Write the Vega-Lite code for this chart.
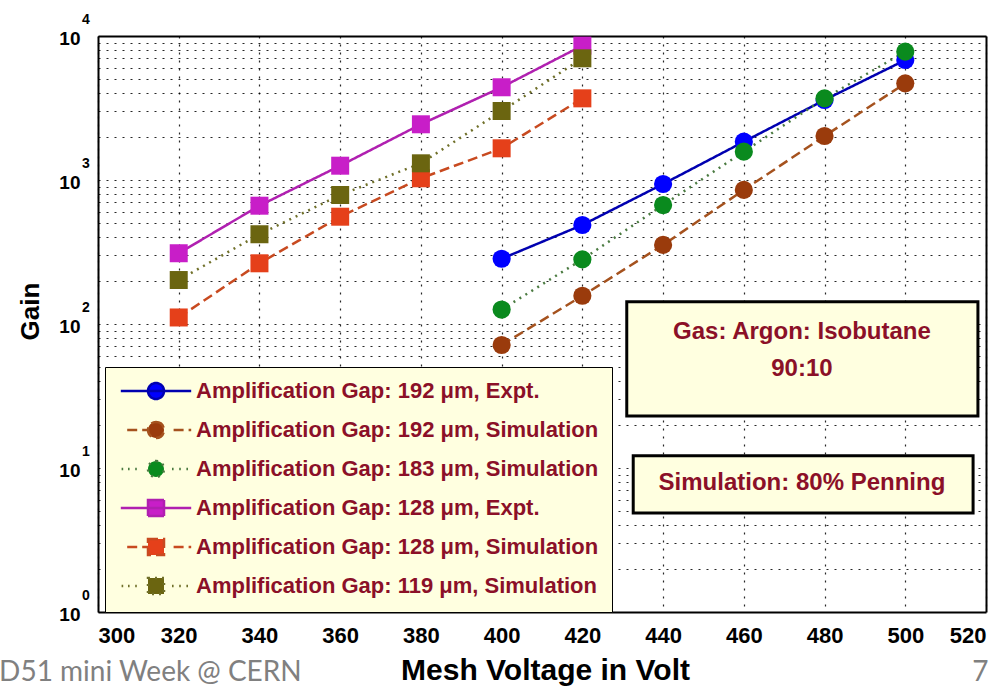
{
  "$schema": "https://vega.github.io/schema/vega-lite/v6.json",
  "width": 888,
  "height": 576,
  "autosize": {"type": "none"},
  "padding": {"left": 98, "top": 36, "right": 20, "bottom": 75},
  "background": "white",
  "config": {
    "view": {"stroke": null},
    "font": "Liberation Sans",
    "axis": {
      "labelFont": "Liberation Sans",
      "labelFontWeight": "bold",
      "labelColor": "black",
      "titleFont": "Liberation Sans",
      "titleFontWeight": "bold",
      "titleColor": "black",
      "domainColor": "black",
      "domainWidth": 2,
      "tickColor": "black",
      "tickWidth": 1.5,
      "tickSize": 0,
      "gridColor": "black",
      "gridDash": [2, 6],
      "gridWidth": 1.2,
      "gridOpacity": 0.85,
      "labelOverlap": false
    },
    "legend": {
      "padding": 13,
      "fillColor": "#FFFFE0",
      "strokeColor": "black",
      "labelFont": "Liberation Sans",
      "labelFontWeight": "bold",
      "labelFontSize": 22,
      "labelColor": "#8B1028",
      "labelLimit": 600,
      "symbolSize": 256,
      "symbolStrokeWidth": 2.5,
      "symbolOffset": 27,
      "labelOffset": 29,
      "rowPadding": 13
    }
  },
  "data": {
    "values": [
      {"series": "Amplification Gap: 192 μm, Expt.", "volt": 400, "gain": 284},
      {"series": "Amplification Gap: 192 μm, Expt.", "volt": 420, "gain": 487},
      {"series": "Amplification Gap: 192 μm, Expt.", "volt": 440, "gain": 938},
      {"series": "Amplification Gap: 192 μm, Expt.", "volt": 460, "gain": 1845},
      {"series": "Amplification Gap: 192 μm, Expt.", "volt": 480, "gain": 3594},
      {"series": "Amplification Gap: 192 μm, Expt.", "volt": 500, "gain": 6810},
      {"series": "Amplification Gap: 192 μm, Simulation", "volt": 400, "gain": 71.5},
      {"series": "Amplification Gap: 192 μm, Simulation", "volt": 420, "gain": 157},
      {"series": "Amplification Gap: 192 μm, Simulation", "volt": 440, "gain": 354},
      {"series": "Amplification Gap: 192 μm, Simulation", "volt": 460, "gain": 853},
      {"series": "Amplification Gap: 192 μm, Simulation", "volt": 480, "gain": 2020},
      {"series": "Amplification Gap: 192 μm, Simulation", "volt": 500, "gain": 4690},
      {"series": "Amplification Gap: 183 μm, Simulation", "volt": 400, "gain": 126},
      {"series": "Amplification Gap: 183 μm, Simulation", "volt": 420, "gain": 281},
      {"series": "Amplification Gap: 183 μm, Simulation", "volt": 440, "gain": 670},
      {"series": "Amplification Gap: 183 μm, Simulation", "volt": 460, "gain": 1573},
      {"series": "Amplification Gap: 183 μm, Simulation", "volt": 480, "gain": 3690},
      {"series": "Amplification Gap: 183 μm, Simulation", "volt": 500, "gain": 7780},
      {"series": "Amplification Gap: 128 μm, Expt.", "volt": 320, "gain": 310},
      {"series": "Amplification Gap: 128 μm, Expt.", "volt": 340, "gain": 663},
      {"series": "Amplification Gap: 128 μm, Expt.", "volt": 360, "gain": 1257},
      {"series": "Amplification Gap: 128 μm, Expt.", "volt": 380, "gain": 2437},
      {"series": "Amplification Gap: 128 μm, Expt.", "volt": 400, "gain": 4405},
      {"series": "Amplification Gap: 128 μm, Expt.", "volt": 420, "gain": 8570},
      {"series": "Amplification Gap: 128 μm, Simulation", "volt": 320, "gain": 111},
      {"series": "Amplification Gap: 128 μm, Simulation", "volt": 340, "gain": 264},
      {"series": "Amplification Gap: 128 μm, Simulation", "volt": 360, "gain": 556},
      {"series": "Amplification Gap: 128 μm, Simulation", "volt": 380, "gain": 1028},
      {"series": "Amplification Gap: 128 μm, Simulation", "volt": 400, "gain": 1660},
      {"series": "Amplification Gap: 128 μm, Simulation", "volt": 420, "gain": 3690},
      {"series": "Amplification Gap: 119 μm, Simulation", "volt": 320, "gain": 202},
      {"series": "Amplification Gap: 119 μm, Simulation", "volt": 340, "gain": 420},
      {"series": "Amplification Gap: 119 μm, Simulation", "volt": 360, "gain": 787},
      {"series": "Amplification Gap: 119 μm, Simulation", "volt": 380, "gain": 1306},
      {"series": "Amplification Gap: 119 μm, Simulation", "volt": 400, "gain": 3013},
      {"series": "Amplification Gap: 119 μm, Simulation", "volt": 420, "gain": 7000}
    ]
  },
  "layer": [
    {
      "transform": [{"filter": "datum.gain < 0"}],
      "mark": {"type": "point", "filled": true, "opacity": 1},
      "encoding": {
        "x": {"field": "volt", "type": "quantitative", "axis": null},
        "y": {"field": "gain", "type": "quantitative", "axis": null},
        "color": {
          "field": "series", "type": "nominal",
          "scale": {
            "domain": ["Amplification Gap: 192 μm, Expt.", "Amplification Gap: 192 μm, Simulation", "Amplification Gap: 183 μm, Simulation", "Amplification Gap: 128 μm, Expt.", "Amplification Gap: 128 μm, Simulation", "Amplification Gap: 119 μm, Simulation"],
            "range": ["#0000FF", "#9A3B0C", "#0A8A1E", "#C81EC8", "#E5401A", "#6B6510"]
          },
          "legend": {
            "title": null,
            "orient": "none", "legendX": 7, "legendY": 331,
            "encode": {
              "legend": {"strokeWidth": {"value": 3}},
              "symbols": {
                "stroke": {"signal": "scale('color', datum.value)"},
                "strokeWidth": {"value": 2.5}
              }
            }
          }
        },
        "shape": {
          "field": "series", "type": "nominal",
          "scale": {
            "domain": ["Amplification Gap: 192 μm, Expt.", "Amplification Gap: 192 μm, Simulation", "Amplification Gap: 183 μm, Simulation", "Amplification Gap: 128 μm, Expt.", "Amplification Gap: 128 μm, Simulation", "Amplification Gap: 119 μm, Simulation"],
            "range": [
              "M-4.4,0H4.4M0,-1A1,1 0 1,1 0,1A1,1 0 1,1 0,-1Z",
              "M-3.6,0H-1M2.2,0H4.4M0,-1A1,1 0 1,1 0,1A1,1 0 1,1 0,-1Z",
              "M-4.3,0h0.2M-3.5,0h0.2M-2.6,0h0.2M2,0h0.2M2.9,0h0.2M3.8,0h0.2M0,-1A1,1 0 1,1 0,1A1,1 0 1,1 0,-1Z",
              "M-4.4,0H4.4M-1,-1H1V1H-1Z",
              "M-3.6,0H-1M2.2,0H4.4M-1,-1H1V1H-1Z",
              "M-4.3,0h0.2M-3.5,0h0.2M-2.6,0h0.2M2,0h0.2M2.9,0h0.2M3.8,0h0.2M-1,-1H1V1H-1Z"
            ]
          },
          "legend": {"title": null, "orient": "none", "legendX": 7, "legendY": 331}
        }
      }
    },
    {
      "mark": {"type": "line", "strokeWidth": 2.5},
      "encoding": {
        "x": {
          "field": "volt", "type": "quantitative",
          "scale": {"domain": [300, 520], "nice": false, "zero": false},
          "axis": {
            "orient": "bottom",
            "values": [300, 320, 340, 360, 380, 400, 420, 440, 460, 480, 500, 520],
            "grid": true,
            "title": "Mesh Voltage in Volt",
            "titleFontSize": 30,
            "titleX": 447, "titleY": 58,
            "titleAlign": "center", "titleBaseline": "middle",
            "labelFontSize": 22, "labelPadding": 13, "labelBaseline": "top",
            "encode": {"ticks": {"update": {"y2": {"value": -8}}}}
          }
        },
        "y": {
          "field": "gain", "type": "quantitative",
          "scale": {"type": "log", "domain": [1, 10000], "nice": false},
          "axis": {
            "orient": "left",
            "values": [1, 2, 3, 4, 5, 6, 7, 8, 9, 10, 20, 30, 40, 50, 60, 70, 80, 90, 100, 200, 300, 400, 500, 600, 700, 800, 900, 1000, 2000, 3000, 4000, 5000, 6000, 7000, 8000, 9000, 10000],
            "grid": true,
            "labelExpr": "abs(log(datum.value)/LN10 - round(log(datum.value)/LN10)) < 0.001 ? '10' : ''",
            "labelFontSize": 19, "labelPadding": 18, "labelBaseline": "middle", "labelOffset": 2,
            "title": "Gain", "titleFontSize": 26, "titleAngle": -90,
            "titleX": -68, "titleY": 275, "titleAlign": "center", "titleBaseline": "middle",
            "encode": {"ticks": {"update": {"x2": {"signal": "abs(log(datum.value)/LN10 - round(log(datum.value)/LN10)) < 0.001 ? 11 : 6"}}}}
          }
        },
        "stroke": {
          "field": "series", "type": "nominal",
          "scale": {
            "domain": ["Amplification Gap: 192 μm, Expt.", "Amplification Gap: 192 μm, Simulation", "Amplification Gap: 183 μm, Simulation", "Amplification Gap: 128 μm, Expt.", "Amplification Gap: 128 μm, Simulation", "Amplification Gap: 119 μm, Simulation"],
            "range": ["#0000B0", "#A5521E", "#4A7A40", "#B020B0", "#C84A20", "#70702A"]
          },
          "legend": null
        },
        "strokeDash": {
          "field": "series", "type": "nominal",
          "scale": {
            "domain": ["Amplification Gap: 192 μm, Expt.", "Amplification Gap: 192 μm, Simulation", "Amplification Gap: 183 μm, Simulation", "Amplification Gap: 128 μm, Expt.", "Amplification Gap: 128 μm, Simulation", "Amplification Gap: 119 μm, Simulation"],
            "range": [[1, 0], [10, 5], [2, 5], [1, 0], [10, 5], [2, 5]]
          },
          "legend": null
        }
      }
    },
    {
      "transform": [{"filter": {"field": "series", "oneOf": ["Amplification Gap: 192 μm, Expt.", "Amplification Gap: 192 μm, Simulation", "Amplification Gap: 183 μm, Simulation"]}}],
      "mark": {"type": "point", "shape": "circle", "filled": true, "size": 330, "opacity": 1, "strokeWidth": 0},
      "encoding": {
        "x": {
          "field": "volt", "type": "quantitative",
          "axis": {
            "orient": "top",
            "values": [300, 320, 340, 360, 380, 400, 420, 440, 460, 480, 500, 520],
            "grid": false, "labels": false, "title": null,
            "encode": {"ticks": {"update": {"y2": {"value": 8}}}}
          }
        },
        "y": {
          "field": "gain", "type": "quantitative",
          "axis": {
            "orient": "right",
            "values": [1, 2, 3, 4, 5, 6, 7, 8, 9, 10, 20, 30, 40, 50, 60, 70, 80, 90, 100, 200, 300, 400, 500, 600, 700, 800, 900, 1000, 2000, 3000, 4000, 5000, 6000, 7000, 8000, 9000, 10000],
            "grid": false, "labels": false, "title": null,
            "encode": {"ticks": {"update": {"x2": {"signal": "abs(log(datum.value)/LN10 - round(log(datum.value)/LN10)) < 0.001 ? -11 : -6"}}}}
          }
        },
        "color": {"field": "series", "type": "nominal", "legend": null}
      }
    },
    {
      "transform": [{"filter": {"field": "series", "oneOf": ["Amplification Gap: 128 μm, Expt.", "Amplification Gap: 128 μm, Simulation", "Amplification Gap: 119 μm, Simulation"]}}],
      "mark": {"type": "point", "shape": "square", "filled": true, "size": 324, "opacity": 1, "strokeWidth": 0},
      "encoding": {
        "x": {"field": "volt", "type": "quantitative", "axis": null},
        "y": {"field": "gain", "type": "quantitative", "axis": null},
        "color": {"field": "series", "type": "nominal", "legend": null}
      }
    },
    {
      "data": {"values": [{"p": 1, "e": "0"}, {"p": 10, "e": "1"}, {"p": 100, "e": "2"}, {"p": 1000, "e": "3"}, {"p": 10000, "e": "4"}]},
      "mark": {"type": "text", "font": "Liberation Sans", "fontWeight": "bold", "fontSize": 14, "dx": -12, "dy": -16, "align": "center", "baseline": "middle", "color": "black"},
      "encoding": {
        "x": {"datum": 300, "type": "quantitative", "axis": null},
        "y": {"field": "p", "type": "quantitative", "axis": null},
        "text": {"field": "e"}
      }
    },
    {
      "data": {"values": [{}]},
      "mark": {"type": "rect", "fill": "#FFFFE0", "stroke": "black", "strokeWidth": 3},
      "encoding": {
        "x": {"datum": 431, "type": "quantitative", "axis": null},
        "x2": {"datum": 518},
        "y": {"datum": 142.9, "type": "quantitative", "axis": null},
        "y2": {"datum": 22.96}
      }
    },
    {
      "data": {"values": [{}]},
      "mark": {"type": "rect", "fill": "#FFFFE0", "stroke": "black", "strokeWidth": 3},
      "encoding": {
        "x": {"datum": 432.6, "type": "quantitative", "axis": null},
        "x2": {"datum": 516.8},
        "y": {"datum": 12.17, "type": "quantitative", "axis": null},
        "y2": {"datum": 4.87}
      }
    },
    {
      "data": {"values": [{}]},
      "mark": {"type": "text", "text": ["Gas: Argon: Isobutane", "90:10"], "font": "Liberation Sans", "fontWeight": "bold", "fontSize": 24, "lineHeight": 37, "align": "center", "baseline": "top", "color": "#8B1028"},
      "encoding": {
        "x": {"datum": 474.4, "type": "quantitative", "axis": null},
        "y": {"datum": 107.3, "type": "quantitative", "axis": null}
      }
    },
    {
      "data": {"values": [{}]},
      "mark": {"type": "text", "text": "Simulation: 80% Penning", "font": "Liberation Sans", "fontWeight": "bold", "fontSize": 24, "align": "center", "baseline": "middle", "color": "#8B1028"},
      "encoding": {
        "x": {"datum": 474.4, "type": "quantitative", "axis": null},
        "y": {"datum": 7.87, "type": "quantitative", "axis": null}
      }
    },
    {
      "data": {"values": [{}]},
      "mark": {"type": "text", "text": "D51 mini Week @ CERN", "font": "Lato", "fontSize": 28, "align": "left", "baseline": "alphabetic", "color": "#808080"},
      "encoding": {
        "x": {"datum": 275.5, "type": "quantitative", "axis": null},
        "y": {"datum": 0.33, "type": "quantitative", "axis": null}
      }
    },
    {
      "data": {"values": [{}]},
      "mark": {"type": "text", "text": "7", "font": "Lato", "fontSize": 28, "align": "left", "baseline": "alphabetic", "color": "#808080"},
      "encoding": {
        "x": {"datum": 516.6, "type": "quantitative", "axis": null},
        "y": {"datum": 0.33, "type": "quantitative", "axis": null}
      }
    }
  ],
  "resolve": {"axis": {"x": "independent", "y": "independent"}}
}
